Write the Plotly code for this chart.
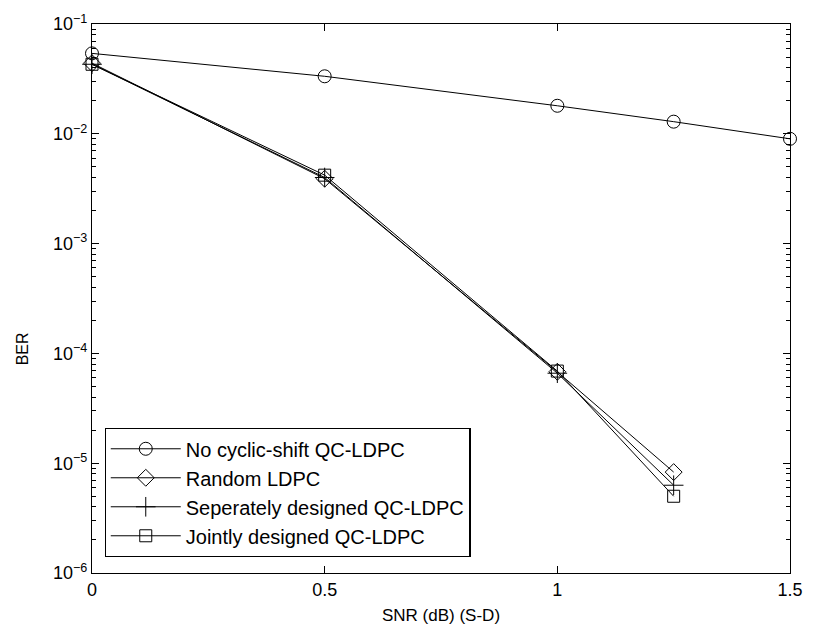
import plotly.graph_objects as go

snr_all = [0, 0.5, 1, 1.25, 1.5]
ber_nocyclic = [0.054, 0.0334, 0.018, 0.0129, 0.009]

snr_ldpc = [0, 0.5, 1, 1.25]
ber_random = [0.044, 0.0039, 6.8e-5, 8.3e-6]
ber_separate = [0.043, 0.0040, 6.6e-5, 6.3e-6]
ber_joint = [0.043, 0.0042, 6.9e-5, 5.0e-6]

names = ["No cyclic-shift QC-LDPC", "Random LDPC", "Seperately designed QC-LDPC", "Jointly designed QC-LDPC"]
symbols = ["circle-open", "diamond-open", "cross-thin-open", "square-open"]
sizes = [13, 13, 14, 12]

ytick_vals = [1e-6, 1e-5, 1e-4, 1e-3, 1e-2, 1e-1]
ytick_text = ["10<sup>−6</sup>", "10<sup>−5</sup>", "10<sup>−4</sup>", "10<sup>−3</sup>", "10<sup>−2</sup>", "10<sup>−1</sup>"]
yminor_vals = [m * 10.0 ** e for e in range(-6, -1) for m in range(2, 10)]
xtick_vals = [0, 0.5, 1, 1.5]
xtick_text = ["0", "0.5", "1", "1.5"]

FONT = "Liberation Sans, Arial, Helvetica"

fig = go.Figure()
series = [(snr_all, ber_nocyclic), (snr_ldpc, ber_random), (snr_ldpc, ber_separate), (snr_ldpc, ber_joint)]
for i, ((xs, ys), nm, sym, sz) in enumerate(zip(series, names, symbols, sizes)):
    fig.add_trace(go.Scatter(
        x=xs, y=ys, name=nm, mode="lines+markers",
        line=dict(color="black", width=1),
        marker=dict(symbol=sym, size=sz, color="black", line=dict(color="black", width=1)),
        cliponaxis=False,
    ))

# invisible trace carrying the minor-tick axis
fig.add_trace(go.Scatter(x=[None], y=[None], yaxis="y2", showlegend=False, hoverinfo="skip"))

axis_common = dict(showline=True, linecolor="black", linewidth=1.2, mirror="ticks",
                   ticks="inside", tickcolor="black", ticklen=7, tickwidth=1.2,
                   showgrid=False, zeroline=False, ticklabeloverflow="allow",
                   tickfont=dict(family=FONT, size=18, color="black"))
fig.update_layout(
    xaxis=dict(range=[0, 1.5], tickvals=xtick_vals, ticktext=xtick_text, **axis_common),
    yaxis=dict(type="log", range=[-6, -1], tickvals=ytick_vals, ticktext=ytick_text, **axis_common),
    yaxis2=dict(type="log", range=[-6, -1], overlaying="y", side="left", anchor="x",
                tickvals=yminor_vals, ticktext=[""] * len(yminor_vals),
                ticks="inside", ticklen=4, tickwidth=1, tickcolor="black", mirror="ticks",
                showline=True, linecolor="black", linewidth=1.2,
                showgrid=False, zeroline=False, showticklabels=False),
)

fig.add_annotation(text="SNR (dB) (S-D)", xref="paper", yref="paper", x=0.5, y=-0.077,
                   xanchor="center", yanchor="middle", showarrow=False,
                   font=dict(family=FONT, size=17, color="black"))
fig.add_annotation(text="BER", xref="paper", yref="paper", x=-0.099, y=0.409, textangle=-90,
                   xanchor="center", yanchor="middle", showarrow=False,
                   font=dict(family=FONT, size=16, color="black"))

fig.update_layout(
    width=815, height=635,
    margin=dict(l=92, r=17, t=16, b=62),
    plot_bgcolor="white", paper_bgcolor="white",
    font=dict(family=FONT, color="black"),
    legend=dict(x=0.018, y=0.029, xanchor="left", yanchor="bottom",
                bordercolor="black", borderwidth=1.2, bgcolor="white",
                font=dict(family=FONT, size=20, color="black"),
                itemwidth=70, tracegroupgap=0),
    showlegend=True,
)

fig.write_html("out.html")
